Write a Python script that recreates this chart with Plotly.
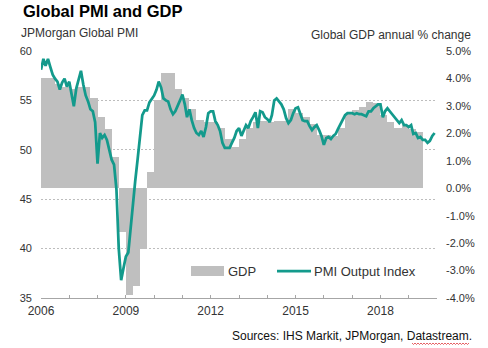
import pandas as pd
import plotly.graph_objects as go

# ---- data -------------------------------------------------------------
# JPMorgan Global PMI (output index), monthly from Jan 2006
pmi_start = "2006-01-01"
pmi_output = [
    58.1, 59.2, 58.5, 59.2, 58.4, 57.6, 57.2, 56.9, 56.1, 56.8, 57.2, 56.4,  # 2006
    56.9, 55.6, 54.4, 56.2, 57.1, 58.0, 56.6, 55.5, 54.9, 54.1, 53.9, 52.8,  # 2007
    48.6, 51.7, 51.2, 51.5, 51.0, 49.8, 49.0, 48.5, 46.0, 40.0, 36.8, 38.0,  # 2008
    39.2, 39.6, 42.0, 44.3, 46.8, 49.0, 51.5, 53.5, 54.0, 54.0, 54.8, 55.2,  # 2009
    55.5, 56.1, 56.9, 56.3, 55.2, 55.0, 54.9, 54.1, 53.6, 53.9, 54.4, 55.0,  # 2010
    55.6, 54.6, 53.3, 54.1, 53.0, 52.2, 51.7, 51.5, 51.9, 51.3, 52.3, 53.7,  # 2011
    53.9, 53.9, 52.9, 52.5, 51.9, 50.7, 50.2, 50.2, 50.2, 50.7, 51.2, 51.9,  # 2012
    52.2, 51.4, 52.0, 52.5, 52.2, 52.9, 53.3, 53.8, 52.2, 53.9, 53.8, 53.3,  # 2013
    53.1, 52.8, 53.5, 55.0, 55.2, 54.9, 54.6, 54.1, 53.2, 52.7, 53.0, 53.7,  # 2014
    54.2, 54.3, 53.7, 53.0, 52.9, 52.9, 52.4, 52.0, 52.3, 52.5, 52.0, 51.4,  # 2015
    50.5, 51.2, 51.3, 51.1, 51.4, 51.6, 52.1, 52.6, 53.1, 53.5, 53.7, 53.7,  # 2016
    53.7, 53.6, 53.7, 53.6, 53.6, 53.5, 53.4, 53.9, 53.9, 54.2, 54.4, 54.6,  # 2017
    54.6, 53.3, 53.9, 54.2, 53.9, 53.6, 53.2, 53.0, 52.7, 53.0, 52.5, 52.5,  # 2018
    52.3, 52.5, 51.6, 51.7, 51.2, 51.3, 51.0, 51.0, 50.7, 50.9, 51.4, 51.7,  # 2019
]

# Global GDP, annual % change, quarterly from 2006 Q1
gdp_start = "2006-01-01"
gdp_growth = [
    4.0, 4.0, 3.8, 3.7,     # 2006
    3.6, 3.7, 3.7, 3.3,     # 2007
    2.6, 2.15, 1.15, -1.6,  # 2008
    -3.9, -3.55, -2.2, 0.6, # 2009
    3.2, 4.2, 4.2, 3.6,     # 2010
    3.3, 2.9, 2.5, 2.4,     # 2011
    2.4, 2.2, 1.8, 1.5,     # 2012
    1.8, 2.2, 2.4, 2.45,    # 2013
    2.4, 2.45, 2.45, 2.9,   # 2014
    2.75, 2.6, 2.35, 1.95,  # 2015
    1.95, 1.9, 2.2, 2.7,    # 2016
    2.85, 2.95, 3.15, 3.1,  # 2017
    2.65, 2.4, 2.2, 2.3,    # 2018
    2.15, 2.05,             # 2019
]

pmi_ticks = [35, 40, 45, 50, 55, 60]
gdp_ticks = [5, 4, 3, 2, 1, 0, -1, -2, -3, -4]
gdp_tick_labels = ["5.0%", "4.0%", "3.0%", "2.0%", "1.0%", "0.0%",
                   "-1.0%", "-2.0%", "-3.0%", "-4.0%"]

# ---- styling ----------------------------------------------------------
W, H = 488, 348
ML, MR, MT, MB = 41, 51, 51, 50
TEAL = "#139a8c"
GREY = "#bfbfbf"
TEXT = "#333333"
FONT = "Liberation Sans, Arial, sans-serif"


def px(x):
    return (x - ML) / (W - ML - MR)


def py(y):
    return (H - MB - y) / (H - MT - MB)


months = pd.date_range(pmi_start, periods=len(pmi_output), freq="MS")
quarters = pd.date_range(gdp_start, periods=len(gdp_growth) + 1, freq="QS")
q_start = quarters[:-1]
q_width = [(b - a).total_seconds() * 1000 + 3.6e6 for a, b in zip(quarters[:-1], quarters[1:])]

fig = go.Figure()

# transparent copy of the PMI series on the base axis so the left scale
# and its gridlines are laid out underneath the GDP columns
fig.add_trace(go.Scatter(
    x=months, y=pmi_output, mode="lines", opacity=0,
    line=dict(color=TEAL, width=0.1), hoverinfo="skip",
    yaxis="y", showlegend=False,
))

fig.add_trace(go.Bar(
    x=q_start, y=gdp_growth, width=q_width, offset=0,
    marker=dict(color=GREY, line=dict(width=0)),
    yaxis="y2", name="GDP", showlegend=False,
))

fig.add_trace(go.Scatter(
    x=months, y=pmi_output, mode="lines",
    line=dict(color=TEAL, width=2.75),
    yaxis="y3", name="PMI Output Index", showlegend=False,
))

fig.update_layout(
    width=W, height=H,
    margin=dict(l=ML, r=MR, t=MT, b=MB, pad=0),
    paper_bgcolor="white", plot_bgcolor="rgba(0,0,0,0)",
    font=dict(family=FONT, color=TEXT, size=11),
    bargap=0,
    xaxis=dict(
        type="date", range=["2006-01-01", "2020-01-01"],
        tickmode="linear", tick0="2006-01-01", dtick="M36", tickformat="%Y",
        ticks="inside", ticklen=3, tickcolor="#a6a6a6",
        showline=True, linecolor="#a6a6a6", linewidth=1,
        showgrid=False, zeroline=False,
        tickfont=dict(size=12, color=TEXT),
        ticklabelstandoff=2,
        minor=dict(ticks="inside", ticklen=3, tickcolor="#a6a6a6",
                   tick0="2006-01-01", dtick="M12", showgrid=False),
    ),
    yaxis=dict(
        range=[35, 60], tickmode="array", tickvals=pmi_ticks,
        side="left", showgrid=True, gridcolor="#bdbdbd", griddash="2px,2px",
        gridwidth=1, zeroline=False, showline=False, ticks="",
        tickfont=dict(size=11, color=TEXT), ticklabelstandoff=8,
    ),
    yaxis2=dict(
        range=[-4, 5], overlaying="y", side="right",
        tickmode="array", tickvals=gdp_ticks, ticktext=gdp_tick_labels,
        showgrid=False, zeroline=False, showline=False, ticks="",
        tickfont=dict(size=11, color=TEXT), ticklabelstandoff=8,
    ),
    yaxis3=dict(range=[35, 60], overlaying="y", visible=False),
    showlegend=False,
)

annotations = [
    dict(text="<b>Global PMI and GDP</b>", x=px(20.5), y=py(11), xanchor="left",
         yanchor="middle", font=dict(size=16.5, color="#000000")),
    dict(text="JPMorgan Global PMI", x=px(19), y=py(33), xanchor="left",
         yanchor="middle", font=dict(size=12, color=TEXT)),
    dict(text="Global GDP annual % change", x=px(473), y=py(35), xanchor="right",
         yanchor="middle", font=dict(size=12, color=TEXT)),
    dict(text="GDP", x=px(226), y=py(271), xanchor="left",
         yanchor="middle", font=dict(size=13, color=TEXT)),
    dict(text="PMI Output Index", x=px(311.5), y=py(271), xanchor="left",
         yanchor="middle", font=dict(size=13, color=TEXT)),
    dict(text="Sources: IHS Markit, JPMorgan, Datastream.", x=px(474), y=py(336),
         xanchor="right", yanchor="middle", font=dict(size=12, color="#111111")),
]
for a in annotations:
    a.update(xref="paper", yref="paper", showarrow=False)

# wavy red underline beneath "Datastream"
zig = []
x0, x1, yb = 412.0, 469.0, 343.5
k = 0
xx = x0
while xx <= x1:
    yy = yb + (1.0 if k % 2 else -0.5)
    zig.append(("M" if k == 0 else "L") + f"{px(xx):.5f},{py(yy):.5f}")
    xx += 1.5
    k += 1

shapes = [
    dict(type="rect", xref="paper", yref="paper",
         x0=px(191), x1=px(224), y0=py(276), y1=py(266),
         fillcolor=GREY, line=dict(width=0)),
    dict(type="line", xref="paper", yref="paper",
         x0=px(277), x1=px(311), y0=py(271), y1=py(271),
         line=dict(color=TEAL, width=2.75)),
    dict(type="path", xref="paper", yref="paper", path=" ".join(zig),
         line=dict(color="#e0393e", width=0.8)),
]

fig.update_layout(annotations=annotations, shapes=shapes)

fig.write_html("out.html")
